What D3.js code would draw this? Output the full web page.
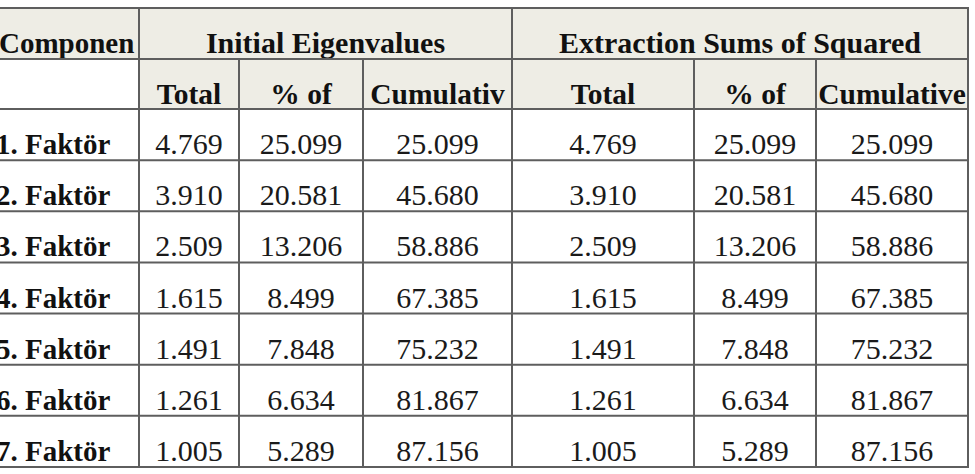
<!DOCTYPE html>
<html><head><meta charset="utf-8">
<script src="https://cdn.jsdelivr.net/npm/d3@7"></script>
<style>html,body{margin:0;padding:0;background:#fff;}svg{display:block;}</style>
</head><body><svg id="c" width="975" height="474"></svg>
<script>
// ---- data ----
const components = ["1. Faktör","2. Faktör","3. Faktör","4. Faktör","5. Faktör","6. Faktör","7. Faktör"];
const initTotal = ["4.769","3.910","2.509","1.615","1.491","1.261","1.005"];
const initPct   = ["25.099","20.581","13.206","8.499","7.848","6.634","5.289"];
const initCum   = ["25.099","45.680","58.886","67.385","75.232","81.867","87.156"];
const extTotal  = ["4.769","3.910","2.509","1.615","1.491","1.261","1.005"];
const extPct    = ["25.099","20.581","13.206","8.499","7.848","6.634","5.289"];
const extCum    = ["25.099","45.680","58.886","67.385","75.232","81.867","87.156"];
const groupHeaders = ["Initial Eigenvalues","Extraction Sums of Squared"];
const subHeaders = ["Total","% of","Cumulativ","Total","% of","Cumulative"];
const firstHeader = "Componen";

// ---- layout ----
const svg = d3.select("#c");
const edges = [-10,139,239,363,512,694,816,968];
const yTop = 8, h1 = 59, h2 = 109, yBottom = 467;
const y = d3.scaleBand().domain(components).range([h2,yBottom]);
const cols = [initTotal,initPct,initCum,extTotal,extPct,extCum];
const lineCol = "#5e5e5e", hdrBg = "#eeede5";
const font = "'Liberation Serif','Times New Roman',serif";

// header backgrounds
svg.append("rect").attr("x",-10).attr("y",yTop).attr("width",978).attr("height",h1-yTop).attr("fill",hdrBg);
svg.append("rect").attr("x",edges[1]).attr("y",h1).attr("width",edges[7]-edges[1]).attr("height",h2-h1).attr("fill",hdrBg);

// header text
svg.append("text").attr("x",-1).attr("y",h1-6).text(firstHeader)
  .attr("font-family",font).attr("font-weight","bold").attr("font-size",29).attr("fill","#111");
const gx = [(edges[1]+edges[4])/2, (edges[4]+edges[7])/2];
svg.selectAll("text.g").data(groupHeaders).join("text").attr("class","g")
  .attr("x",(d,i)=>gx[i]).attr("y",h1-6).attr("text-anchor","middle").text(d=>d)
  .attr("font-family",font).attr("font-weight","bold").attr("font-size",30).attr("fill","#111");
svg.selectAll("text.s").data(subHeaders).join("text").attr("class","s")
  .attr("x",(d,i)=>(edges[i+1]+edges[i+2])/2).attr("y",h2-5).attr("text-anchor","middle").text(d=>d)
  .attr("font-family",font).attr("font-weight","bold").attr("font-size",29.5).attr("fill","#111");

// body text
svg.selectAll("text.r").data(components).join("text").attr("class","r")
  .attr("x",-4).attr("y",d=>y(d)+y.bandwidth()-6).text(d=>d)
  .attr("font-family",font).attr("font-weight","bold").attr("font-size",29).attr("fill","#111");
cols.forEach((col,ci)=>{
  svg.selectAll("text.c"+ci).data(col).join("text").attr("class","c"+ci)
    .attr("x",(edges[ci+1]+edges[ci+2])/2).attr("y",(d,i)=>y(components[i])+y.bandwidth()-6)
    .attr("text-anchor","middle").text(d=>d)
    .attr("font-family",font).attr("font-size",30).attr("fill","#1a1a1a");
});

// lines
const g = svg.append("g").attr("stroke",lineCol).attr("stroke-width",2).attr("fill","none");
[yTop,h1,h2].concat(components.map(c=>y(c)+y.bandwidth())).forEach(yy=>{
  g.append("line").attr("x1",-10).attr("x2",edges[7]+1).attr("y1",yy).attr("y2",yy);
});
edges.slice(1).forEach((xx,i)=>{
  const full = (i===0||i===3||i===6);
  g.append("line").attr("x1",xx).attr("x2",xx).attr("y1",full?yTop:h1).attr("y2",yBottom);
});
</script></body></html>
